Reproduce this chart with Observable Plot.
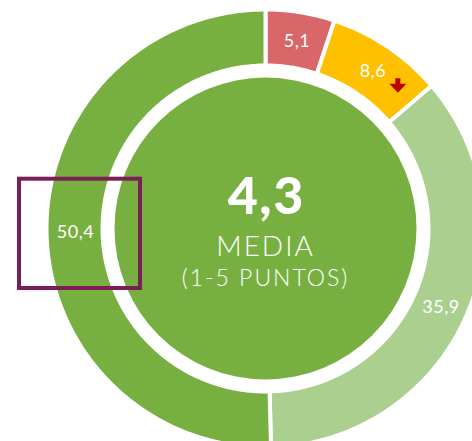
<!DOCTYPE html>
<html><head><meta charset="utf-8">
<script src="https://cdn.jsdelivr.net/npm/d3@7"></script>
<script src="https://cdn.jsdelivr.net/npm/@observablehq/plot@0.6"></script>
<style>
html,body{margin:0;padding:0;background:#fff;} svg{display:block}
svg g[font-size="52"] text{letter-spacing:1.5px}
svg g[font-size="28"] text{letter-spacing:2px}
svg g[font-size="23"] text{letter-spacing:2px}
svg g[font-size="18"] text{letter-spacing:0.5px}
</style>
</head><body><div id="chart"></div>
<script>
const segmentLabels = ["5,1", "8,6", "35,9", "50,4"];
const segmentValues = [5.1, 8.6, 35.9, 50.4];
const segmentColors = ["#D9676A", "#FFC000", "#ABCF8F", "#77B041"];
const centerColor = "#77B041";
const meanLabel = "4,3";
const centerLines = ["MEDIA", "(1-5 PUNTOS)"];
const highlighted = "50,4";
const trendDown = "8,6";

const total = d3.sum(segmentValues);
const ends = Array.from(d3.cumsum(segmentValues));
const segs = segmentValues.map((v, i) => ({
  label: segmentLabels[i],
  a0: (ends[i] - v) / total * 2 * Math.PI,
  a1: ends[i] / total * 2 * Math.PI
}));
const R_OUT = 219, R_IN = 163, R_LABEL = 191, R_CENTER = 151;
const ring = segs.flatMap(s => {
  const n = Math.max(2, Math.ceil((s.a1 - s.a0) / (Math.PI / 180)));
  const angles = d3.range(n + 1).map(k => s.a0 + (s.a1 - s.a0) * k / n);
  const outer = angles.map(a => ({label: s.label, x: R_OUT * Math.sin(a), y: R_OUT * Math.cos(a)}));
  const inner = angles.slice().reverse().map(a => ({label: s.label, x: R_IN * Math.sin(a), y: R_IN * Math.cos(a)}));
  const pts = outer.concat(inner);
  pts.push(pts[0]);
  return pts;
});
const labels = segs.map(s => {
  const m = (s.a0 + s.a1) / 2;
  return {label: s.label, x: R_LABEL * Math.sin(m), y: R_LABEL * Math.cos(m)};
});
const origin = [{x: 0, y: 0}];

// down-arrow glyph outline, relative to its label (px, y up)
const arrowShape = [[23.5, -8.5], [28.5, -8.5], [28.5, -14], [34.5, -14], [26, -23], [17.5, -14], [23.5, -14], [23.5, -8.5]];
const arrowPts = labels.filter(d => d.label === trendDown)
  .flatMap(d => arrowShape.map(([dx, dy]) => ({x: d.x + dx, y: d.y + dy})));

const chart = Plot.plot({
  width: 472,
  height: 441,
  margin: 0,
  style: {fontFamily: "Lato, 'Open Sans', sans-serif", background: "white"},
  x: {domain: [-265, 207], axis: null},
  y: {domain: [-213, 228], axis: null},
  color: {domain: segmentLabels, range: segmentColors},
  marks: [
    Plot.line(ring, {x: "x", y: "y", z: "label", fill: "label", stroke: "white", strokeWidth: 4, strokeLinejoin: "miter"}),
    Plot.dot(origin, {x: "x", y: "y", r: R_CENTER, fill: centerColor, stroke: null}),
    Plot.text(origin, {x: "x", y: "y", text: () => meanLabel, dy: -31, dx: 0.75, fontSize: 52, fontWeight: 900, fill: "white"}),
    Plot.text(origin, {x: "x", y: "y", text: () => centerLines[0], dy: 19, dx: 0, fontSize: 28, fontWeight: 300, fill: "white"}),
    Plot.text(origin, {x: "x", y: "y", text: () => centerLines[1], dy: 50, dx: 0, fontSize: 23, fontWeight: 300, fill: "white"}),
    Plot.text(labels, {x: "x", y: "y", text: "label", dy: 1.5, dx: 1, fontSize: 18, fontWeight: 400, fill: "white"}),
    Plot.line(arrowPts, {x: "x", y: "y", fill: "#C00000", stroke: null, curve: "linear"}),
    Plot.rect(labels.filter(d => d.label === highlighted), {
      x1: d => d.x - 55, x2: d => d.x + 66, y1: d => d.y - 57.6, y2: d => d.y + 51.7,
      fill: "none", stroke: "#7A1F55", strokeWidth: 4
    })
  ]
});
document.getElementById("chart").append(chart);
</script>
</body></html>
